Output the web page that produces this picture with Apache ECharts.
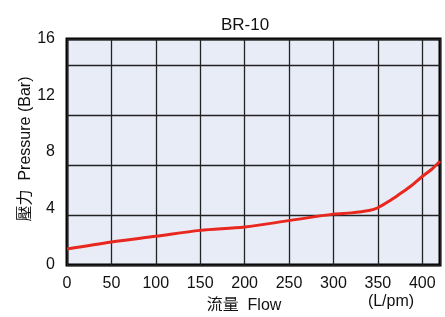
<!DOCTYPE html>
<html>
<head>
<meta charset="utf-8">
<script src="https://cdn.jsdelivr.net/npm/echarts@6/dist/echarts.min.js"></script>
<style>
  html, body { margin: 0; padding: 0; background: #fff; }
  #chart { width: 445px; height: 317px; }
</style>
</head>
<body>
<div id="chart"></div>
<script>
// flow (L/pm) vs pressure (bar)
var flow = [0, 50, 100, 150, 200, 250, 300, 320, 340, 350, 363, 375, 387, 400, 410, 420];
var pressure = [1.28, 1.84, 2.3, 2.77, 3.04, 3.55, 4.07, 4.17, 4.36, 4.58, 5.12, 5.7, 6.3, 7.08, 7.62, 8.3];
var pressureLabels = [0, 4, 8, 12, 16];

var font = '"Liberation Sans", Arial, "Noto Sans CJK TC", sans-serif';
var myChart = echarts.init(document.getElementById('chart'));

myChart.setOption({
  animation: false,
  backgroundColor: '#fff',
  title: {
    text: 'BR-10',
    left: 240,
    top: 12,
    textAlign: 'center',
    textStyle: { fontFamily: font, fontSize: 17, fontWeight: 'normal', color: '#111' }
  },
  grid: {
    left: 67, right: 5, top: 39, bottom: 52,
    show: true,
    backgroundColor: '#e8ecf7',
    borderColor: '#000',
    borderWidth: 3
  },
  xAxis: {
    type: 'value',
    min: 0,
    max: 420,
    interval: 50,
    axisLine: { show: false },
    axisTick: { show: false },
    splitLine: { lineStyle: { color: '#222', width: 1.3 } },
    axisLabel: {
      showMaxLabel: false,
      margin: 11,
      fontFamily: font, fontSize: 16, color: '#111'
    }
  },
  yAxis: [
    {
      // grid lines used by the curve
      type: 'value',
      min: 0,
      max: 18.08,
      interval: 4,
      axisLine: { show: false },
      axisTick: { show: false },
      axisLabel: { show: false },
      splitLine: { lineStyle: { color: '#222', width: 1.3 } }
    },
    {
      // printed pressure labels
      type: 'value',
      position: 'left',
      min: 0,
      max: 16,
      interval: 4,
      axisLine: { show: false },
      axisTick: { show: false },
      splitLine: { show: false },
      axisLabel: {
        margin: 12,
        fontFamily: font, fontSize: 16, color: '#111',
        formatter: function (v) { return pressureLabels.indexOf(v) >= 0 ? String(v) : ''; }
      }
    }
  ],
  graphic: [
    {
      type: 'text',
      x: 26, y: 149,
      rotation: Math.PI / 2,
      style: {
        text: '壓力  Pressure (Bar)',
        fontFamily: font, fontSize: 16, fill: '#111',
        align: 'center', verticalAlign: 'middle'
      }
    },
    {
      type: 'text',
      x: 244, y: 306,
      style: {
        text: '流量  Flow',
        fontFamily: font, fontSize: 16, fill: '#111',
        align: 'center', verticalAlign: 'middle'
      }
    },
    {
      type: 'text',
      x: 391, y: 302,
      style: {
        text: '(L/pm)',
        fontFamily: font, fontSize: 16, fill: '#111',
        align: 'center', verticalAlign: 'middle'
      }
    }
  ],
  series: [
    {
      type: 'line',
      yAxisIndex: 0,
      data: flow.map(function (f, i) { return [f, pressure[i]]; }),
      smooth: 0.3,
      symbol: 'none',
      lineStyle: { color: '#e8281e', width: 3 }
    }
  ]
});
</script>
</body>
</html>
